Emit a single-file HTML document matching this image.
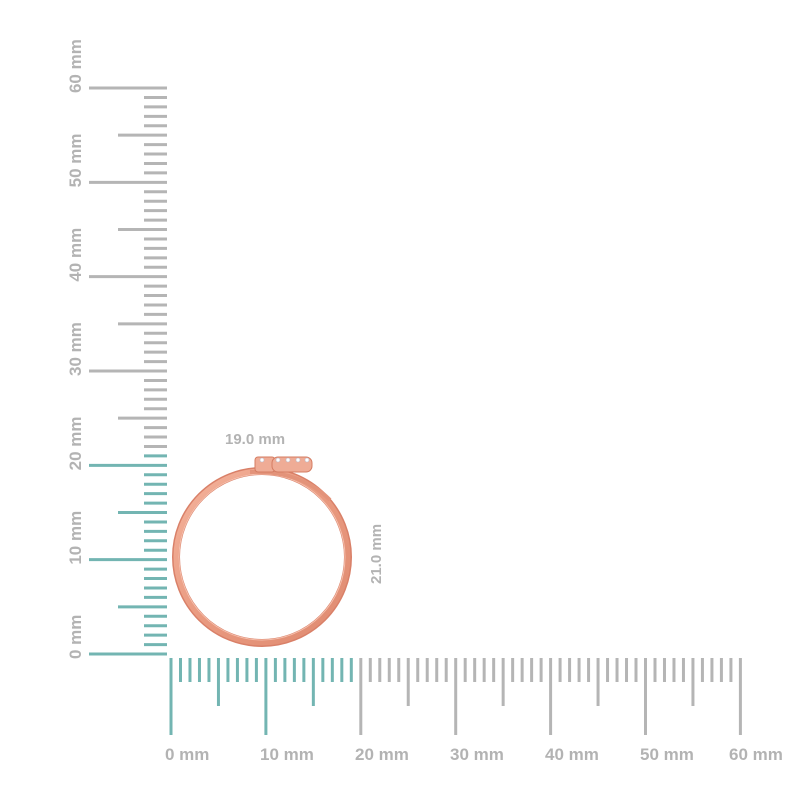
<!DOCTYPE html>
<html><head><style>
body{margin:0;background:#fff;}
</style></head><body>
<svg width="800" height="800" xmlns="http://www.w3.org/2000/svg" style="display:block">
<g id="v"></g><g id="h"></g>
<defs>
<linearGradient id="rg" x1="0" y1="0" x2="1" y2="1">
<stop offset="0" stop-color="#f4b39c"/><stop offset="0.5" stop-color="#e99a80"/><stop offset="1" stop-color="#df8a70"/>
</linearGradient>
</defs>
<circle cx="262" cy="557" r="86" fill="none" stroke="#d98068" stroke-width="8"/>
<circle cx="262" cy="557" r="86" fill="none" stroke="url(#rg)" stroke-width="5"/>
<circle cx="262" cy="557" r="83" fill="none" stroke="#f6c0ad" stroke-width="1"/>
<path d="M250 472 Q300 470 330 500" fill="none" stroke="#e3937a" stroke-width="4"/>
<rect x="255" y="457" width="20" height="15" rx="3" fill="#efac96" stroke="#d47c62"/>
<rect x="272" y="457" width="40" height="15" rx="6" fill="#efac96" stroke="#d47c62"/>
<g fill="#fff" stroke="#b9b9c9" stroke-width="0.6">
<circle cx="262" cy="460" r="2"/><circle cx="278" cy="460" r="2"/><circle cx="288" cy="460" r="2"/><circle cx="298" cy="460" r="2"/><circle cx="307" cy="460" r="2"/></g>
<g font-family="Liberation Sans, sans-serif" font-weight="bold" font-size="17" fill="#b3b3b3">
<text x="225" y="444" font-size="15">19.0 mm</text>
<text transform="translate(381,584) rotate(-90)" font-size="15">21.0 mm</text>
<text x="165" y="760">0 mm</text>
<text x="260" y="760">10 mm</text>
<text x="355" y="760">20 mm</text>
<text x="450" y="760">30 mm</text>
<text x="545" y="760">40 mm</text>
<text x="640" y="760">50 mm</text>
<text x="729" y="760">60 mm</text>
</g>
<script>
var ns="http://www.w3.org/2000/svg";
var v=document.getElementById('v'),h=document.getElementById('h');
function ln(g,x1,y1,x2,y2,c){var l=document.createElementNS(ns,'line');l.setAttribute('x1',x1);l.setAttribute('y1',y1);l.setAttribute('x2',x2);l.setAttribute('y2',y2);l.setAttribute('stroke',c);l.setAttribute('stroke-width',3);g.appendChild(l);}
function tx(g,x,y,s){var t=document.createElementNS(ns,'text');t.setAttribute('transform','translate('+x+','+y+') rotate(-90)');t.setAttribute('font-family','Liberation Sans, sans-serif');t.setAttribute('font-weight','bold');t.setAttribute('font-size','17');t.setAttribute('fill','#b3b3b3');t.textContent=s;g.appendChild(t);}
var T='#73b5b2',G='#b5b5b5';
for(var i=0;i<=60;i++){var y=654-i*9.433;var c=i<=21?T:G;var x1=i%10==0?89:(i%5==0?118:144);ln(v,x1,y,167,y,c);
if(i%10==0)tx(v,81,y+5,i+' mm');}
for(var i=0;i<=60;i++){var x=171+i*9.49;var c=i<=19?T:G;var y2=i%10==0?735:(i%5==0?706:682);ln(h,x,658,x,y2,c);}
</script>
</svg>
</body></html>
